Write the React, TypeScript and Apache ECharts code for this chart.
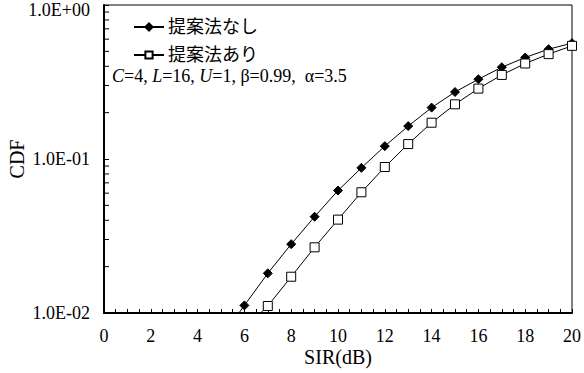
import React, { useEffect, useRef } from "react";
import * as echarts from "echarts";

const seriesNames = ["提案法なし", "提案法あり"];
const sirA = [5, 6, 7, 8, 9, 10, 11, 12, 13, 14, 15, 16, 17, 18, 19, 20];
const cdfA = [0.0069, 0.0112, 0.0181, 0.028, 0.0422, 0.0624, 0.0876, 0.1212, 0.1635, 0.2156, 0.2723, 0.3296, 0.3945, 0.4562, 0.5167, 0.565];
const sirB = [6, 7, 8, 9, 10, 11, 12, 13, 14, 15, 16, 17, 18, 19, 20];
const cdfB = [0.0079, 0.0111, 0.0172, 0.0267, 0.0404, 0.0608, 0.0887, 0.125, 0.172, 0.2265, 0.2866, 0.3515, 0.417, 0.4797, 0.543];
const yMinorTicks = [0.02, 0.03, 0.04, 0.05, 0.06, 0.07, 0.08, 0.09, 0.2, 0.3, 0.4, 0.5, 0.6, 0.7, 0.8, 0.9];

const FONT = "'Liberation Serif', 'Times New Roman', 'Noto Sans CJK JP', serif";

function fmtExp(v: number): string {
  const e = Math.round(Math.log10(v));
  return `1.0E${e < 0 ? "-" : "+"}${String(Math.abs(e)).padStart(2, "0")}`;
}

export default function App() {
  const ref = useRef<HTMLDivElement>(null);
  useEffect(() => {
    if (!ref.current) return;
    const chart = echarts.init(ref.current, undefined, { renderer: "svg" });
    chart.setOption({
      animation: false,
      textStyle: { fontFamily: FONT, color: "#000" },
      grid: {
        left: 104,
        right: 12,
        top: 5,
        bottom: 60,
        containLabel: false,
        outerBoundsMode: "none",
        show: true,
        borderColor: "#000",
        borderWidth: 1,
      },
      legend: {
        data: seriesNames,
        orient: "vertical",
        left: 128,
        top: 13,
        itemWidth: 30,
        itemHeight: 9,
        itemGap: 10,
        textStyle: { fontFamily: FONT, fontSize: 18, lineHeight: 18, color: "#000", padding: [0, 0, 0, -1] },
      },
      graphic: [
        {
          type: "text",
          left: 112,
          top: 67,
          style: {
            text: "{i|C}=4, {i|L}=16, {i|U}=1, β=0.99,  α=3.5",
            font: `18px ${FONT}`,
            lineHeight: 16,
            fill: "#000",
            rich: {
              i: { fontStyle: "italic", fontSize: 18, lineHeight: 16, fontFamily: FONT, fill: "#000" },
            },
          },
        },
      ],
      xAxis: {
        type: "value",
        min: 0,
        max: 20,
        interval: 2,
        name: "SIR(dB)",
        nameLocation: "middle",
        nameGap: 34,
        nameMoveOverlap: false,
        nameTextStyle: { fontFamily: FONT, fontSize: 20, color: "#000" },
        axisLine: { show: true, lineStyle: { color: "#000", width: 2 } },
        axisTick: { show: true, inside: true, length: 4, lineStyle: { color: "#000" } },
        minorTick: { show: true, splitNumber: 4, length: 4, lineStyle: { color: "#000" } },
        axisLabel: { fontFamily: FONT, fontSize: 18, color: "#000", margin: 14 },
        splitLine: { show: false },
      },
      yAxis: {
        type: "log",
        logBase: 10,
        min: 0.01,
        max: 1,
        name: "CDF",
        nameLocation: "middle",
        nameRotate: 90,
        nameGap: 77,
        nameMoveOverlap: false,
        nameTextStyle: { fontFamily: FONT, fontSize: 20, color: "#000" },
        axisLine: { show: true, lineStyle: { color: "#000", width: 2 } },
        axisTick: { show: true, inside: true, length: 5, lineStyle: { color: "#000" } },
        axisLabel: {
          fontFamily: FONT,
          fontSize: 18,
          color: "#000",
          margin: 14,
          formatter: (v: number) => (Math.abs(v - 1) < 1e-9 ? `{t|${fmtExp(v)}}` : fmtExp(v)),
          rich: {
            t: { fontFamily: FONT, fontSize: 18, color: "#000", padding: [10, 0, 0, 0] },
          },
        },
        splitLine: { show: false },
      },
      series: [
        {
          name: seriesNames[0],
          type: "line",
          data: sirA.map((x, i) => [x, cdfA[i]]),
          symbol: "diamond",
          symbolSize: 9,
          lineStyle: { color: "#000", width: 1 },
          itemStyle: { color: "#000", borderColor: "#000", borderWidth: 1 },
          clip: true,
        },
        {
          name: seriesNames[1],
          type: "line",
          data: sirB.map((x, i) => [x, cdfB[i]]),
          symbol: "rect",
          symbolSize: 9,
          lineStyle: { color: "#000", width: 1 },
          itemStyle: { color: "#fff", borderColor: "#000", borderWidth: 1 },
          clip: true,
        },
        {
          type: "custom",
          silent: true,
          data: yMinorTicks.map((v) => [0, v]),
          renderItem: (params: any, api: any) => {
            const p = api.coord([0, api.value(1)]);
            return {
              type: "line",
              shape: { x1: p[0], y1: p[1], x2: p[0] + 5, y2: p[1] },
              style: { stroke: "#000", lineWidth: 1 },
            };
          },
          z: 5,
        },
      ],
    });
    return () => chart.dispose();
  }, []);
  return <div ref={ref} style={{ width: 584, height: 373, position: "absolute", left: 0, top: 0, background: "#fff" }} />;
}
